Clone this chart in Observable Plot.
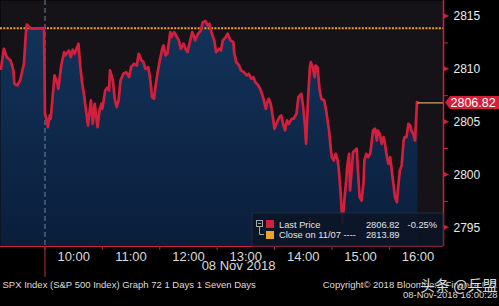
<!DOCTYPE html>
<html><head><meta charset="utf-8">
<script src="https://cdn.jsdelivr.net/npm/d3@7"></script>
<script src="https://cdn.jsdelivr.net/npm/@observablehq/plot@0.6"></script>
<style>
html,body{margin:0;padding:0;background:#000;}
#chart{width:499px;height:306px;overflow:hidden;}
</style></head><body><div id="chart"></div>
<script>
// minutes relative to the 09:30 open of 08 Nov 2018 (negative = tail of the 07 Nov session)
const minutes = [-46,-43,-40,-36,-33,-32,-29,-26,-24,-22,-20,-19,-15,-1,
0,2,3,5,6,8,10,13,14,17,20,21,25,27,29,31,35,37,39,41,42,45,48,50,52,55,57,59,60,63,65,67,68,71,73,75,77,79,82,85,88,90,93,96,98,101,103,105,108,110,112,114,116,117,120,123,124,126,128,131,132,135,136,140,142,145,147,149,151,154,156,157,160,163,165,168,170,172,174,177,179,182,184,186,189,191,194,197,198,200,203,205,208,211,213,216,218,220,223,225,228,231,232,234,236,238,240,242,245,247,249,251,253,255,258,260,263,265,268,270,272,273,275,277,278,280,282,283,285,287,289,292,294,297,299,300,302,304,306,307,309,311,313,315,316,318,319,321,322,324,326,327,329,331,333,334,336,338,340,341,343,345,347,348,350,352,354,355,357,359,361,363,366,368,369,371,373,375,376,378,380,382,383,385,387,388,389,390];
const prices = [2810.05,2811.94,2811.15,2810.84,2809.89,2808.63,2808.47,2808.94,2809.73,2810.52,2813.36,2814.24,2813.84,2813.89,
2805.79,2805.16,2804.52,2805.63,2805.32,2807.36,2809.42,2808.63,2808.16,2810.36,2811.62,2811.31,2811.78,2811.15,2811.85,2811.47,2812.42,2810.20,2808.63,2807.52,2806.74,2804.68,2807.05,2804.84,2806.74,2804.52,2806.10,2806.74,2806.26,2808.00,2808.25,2808.00,2809.89,2808.94,2807.21,2806.42,2807.05,2808.94,2809.58,2809.73,2809.26,2810.20,2810.52,2810.36,2811.47,2810.84,2810.68,2810.05,2810.20,2809.10,2807.36,2807.21,2808.63,2809.26,2810.84,2812.10,2812.26,2811.31,2811.47,2813.52,2813.04,2813.52,2813.36,2812.73,2811.94,2812.42,2811.94,2811.62,2812.42,2813.52,2813.04,2812.73,2813.36,2813.67,2814.46,2814.56,2814.15,2814.31,2813.52,2812.73,2811.62,2811.94,2811.78,2812.73,2813.04,2813.36,2812.73,2812.57,2811.47,2810.68,2810.36,2809.89,2809.73,2809.42,2809.58,2809.10,2809.26,2808.78,2808.47,2808.16,2807.36,2806.26,2806.74,2807.21,2806.74,2805.63,2804.37,2804.84,2805.47,2805.63,2804.84,2804.21,2805.16,2804.84,2805.32,2805.32,2805.79,2807.36,2807.68,2806.42,2804.52,2802.95,2807.05,2810.20,2810.68,2810.20,2809.26,2810.36,2810.20,2808.16,2807.21,2807.05,2806.10,2804.21,2802.32,2801.68,2801.37,2802.00,2801.37,2800.74,2798.53,2795.40,2797.58,2799.48,2800.74,2802.00,2798.53,2800.74,2802.16,2802.32,2802.48,2800.74,2797.90,2797.58,2799.16,2801.37,2802.00,2801.68,2802.00,2802.63,2804.21,2804.37,2803.26,2804.21,2803.90,2802.95,2803.58,2803.26,2802.00,2801.05,2801.68,2800.11,2797.90,2797.42,2798.53,2800.42,2800.90,2803.26,2803.58,2803.58,2804.84,2804.68,2804.21,2803.90,2803.26,2805.16,2806.89,2806.82];
const prevClose = 2813.89;
const lastPrice = 2806.82;
const changePct = "-0.25%";
const hourTicks = [30, 90, 150, 210, 270, 330, 390];
const halfHourTicks = [0, 60, 120, 180, 240, 300, 360];
const priceTicks = [2795, 2800, 2805, 2810, 2815];
const minorPriceTicks = [2797.5, 2802.5, 2807.5, 2812.5];
const xDomain = [-46.5, 416.7];
const yDomain = [2793.23, 2816.51];
const dateLabel = "08 Nov 2018";
const footerLeft = "SPX Index (S&P 500 Index) Graph 72 1 Days 1 Seven Days";
const footerRight = "Copyright\u00A9 2018 Bloomberg Finance L.P.";
const footerTime = "08-Nov-2018 16:00:28";
const legendNames = ["Last Price", "Close on 11/07 ----"];
const watermark = "\u5934\u6761 @\u5175\u76DF";

const RED = "#d41f3c", ORANGE = "#f2a124", TXT = "#e4e4e4";
const FONT = "Liberation Sans, Arial, sans-serif";
const data = minutes.map((m, i) => ({m, p: prices[i]}));
const fmt = m => { const t = 570 + m; return `${Math.floor(t / 60)}:${String(t % 60).padStart(2, "0")}`; };

const defs = () => {
  const d = d3.create("svg:defs");
  const g = d.append("linearGradient").attr("id", "fillGrad").attr("x1", 0).attr("y1", 0).attr("x2", 0).attr("y2", 1);
  g.append("stop").attr("offset", "0%").attr("stop-color", "#13335a");
  g.append("stop").attr("offset", "100%").attr("stop-color", "#0a1e3b");
  return d.node();
};

const priceMarkers = (index, scales, values, dims) => {
  const R = dims.width - dims.marginRight;
  const g = d3.create("svg:g").attr("fill", RED);
  for (const t of priceTicks) {
    const y = scales.y(t);
    g.append("path").attr("d", `M${R + 1},${y - 2.5}L${R + 6},${y}L${R + 1},${y + 2.5}Z`);
  }
  return g.node();
};

const lastLabel = (index, scales, values, dims) => {
  const y = scales.y(lastPrice);
  const x0 = dims.width - dims.marginRight + 2;
  const g = d3.create("svg:g");
  g.append("path").attr("d", `M${x0},${y} L${x0 + 5},${y - 6.5} H${dims.width} V${y + 6.5} H${x0 + 5} Z`).attr("fill", RED);
  g.append("text").attr("x", x0 + 5.5).attr("y", y + 4.4).attr("fill", "#fff").attr("text-anchor", "start")
    .attr("font-size", 12.5).attr("font-family", FONT).text(lastPrice.toFixed(2));
  return g.node();
};

const legend = (index, scales, values, dims) => {
  const R = dims.width - dims.marginRight, B = dims.height - dims.marginBottom;
  const g = d3.create("svg:g").attr("font-family", FONT).attr("font-size", 9.3);
  g.append("rect").attr("x", R - 191).attr("y", B - 33).attr("width", 191).attr("height", 33)
    .attr("fill", "#0b1526").attr("fill-opacity", 0.9).attr("stroke", "#1f2b3e");
  g.append("rect").attr("x", R - 186.5).attr("y", B - 25.5).attr("width", 6).attr("height", 6).attr("fill", "none").attr("stroke", "#a0a8b4");
  g.append("path").attr("d", `M${R - 185},${B - 22.5}H${R - 182}M${R - 183.5},${B - 19.5}V${B - 11.5}H${R - 179}`).attr("stroke", "#a0a8b4").attr("fill", "none");
  g.append("rect").attr("x", R - 177).attr("y", B - 26).attr("width", 8).attr("height", 8).attr("fill", RED);
  g.append("rect").attr("x", R - 177).attr("y", B - 15).attr("width", 8).attr("height", 8).attr("fill", ORANGE);
  const rows = [[legendNames[0], lastPrice.toFixed(2), changePct, B - 18.5], [legendNames[1], prevClose.toFixed(2), "", B - 8]];
  for (const [n, v, c, y] of rows) {
    g.append("text").attr("x", R - 164).attr("y", y).attr("fill", TXT).attr("text-anchor", "start").text(n);
    g.append("text").attr("x", R - 43.5).attr("y", y).attr("fill", TXT).attr("text-anchor", "end").text(v);
    if (c) g.append("text").attr("x", R - 6).attr("y", y).attr("fill", TXT).attr("text-anchor", "end").text(c);
  }
  return g.node();
};

const chart = Plot.plot({
  width: 499, height: 306,
  marginTop: 0, marginLeft: 0, marginRight: 56, marginBottom: 60,
  style: {background: "#000", color: TXT, fontFamily: FONT, overflow: "visible"},
  x: {domain: xDomain, label: null},
  y: {domain: yDomain, label: null},
  marks: [
    defs,
    Plot.frame({fill: "#161318", stroke: null}),
    Plot.areaY(data, {x: "m", y1: yDomain[0], y2: "p", fill: "url(#fillGrad)", curve: "linear"}),
    Plot.ruleX([0], {stroke: "#8fa4bd", strokeOpacity: 0.75, strokeDasharray: "5,3", strokeWidth: 1}),
    Plot.ruleX([0], {stroke: "#b03045", strokeWidth: 1, insetTop: 246, insetBottom: -31}),
    Plot.ruleY([prevClose], {stroke: ORANGE, strokeWidth: 2, strokeDasharray: "2,1.35"}),
    Plot.line(data, {x: "m", y: "p", stroke: RED, strokeWidth: 2.7, strokeLinejoin: "round"}),
    Plot.ruleY([lastPrice], {x1: minutes[minutes.length - 1], x2: xDomain[1], stroke: "#e9a060", strokeWidth: 1.2}),
    Plot.ruleY([yDomain[0]], {stroke: RED, strokeWidth: 1}),
    Plot.ruleX([xDomain[1]], {stroke: RED, strokeWidth: 1.5}),
    Plot.axisX({ticks: hourTicks, tickFormat: fmt, tickSize: 0, tickPadding: 5, fontSize: 13, color: "#dcdcdc", label: null}),
    Plot.axisX({ticks: halfHourTicks, tickFormat: () => "", tickSize: 4, stroke: "#a83040", label: null}),
    Plot.axisY({anchor: "right", ticks: priceTicks, tickFormat: d => String(d), tickSize: 0, tickPadding: 10, fontSize: 12, color: "#ececec", label: null}),
    Plot.axisY({anchor: "right", ticks: minorPriceTicks, tickSize: 4, tickFormat: () => "", stroke: RED, label: null}),
    priceMarkers,
    lastLabel,
    legend,
    Plot.text([dateLabel], {frameAnchor: "bottom-left", dx: 238, dy: 23.8, fontSize: 13, fill: "#dcdcdc", textAnchor: "middle"}),
    Plot.text([footerLeft], {frameAnchor: "bottom-left", dx: 2, dy: 41.3, fontSize: 9.5, fill: "#dcdcdc", textAnchor: "start"}),
    Plot.text([footerRight], {frameAnchor: "bottom-right", dx: 54, dy: 41.3, fontSize: 9.5, fill: "#dcdcdc", textAnchor: "end"}),
    Plot.text([footerTime], {frameAnchor: "bottom-right", dx: 54, dy: 51.8, fontSize: 9.5, fill: "#dcdcdc", textAnchor: "end"}),
    Plot.text([watermark], {frameAnchor: "bottom-right", dx: 54, dy: 44, fontSize: 15, fill: "#fff", fillOpacity: 0.85, stroke: "#000", strokeOpacity: 0.5, strokeWidth: 2, paintOrder: "stroke", textAnchor: "end", fontFamily: "Noto Sans CJK SC"})
  ]
});
document.getElementById("chart").append(chart);
</script>
</body></html>
